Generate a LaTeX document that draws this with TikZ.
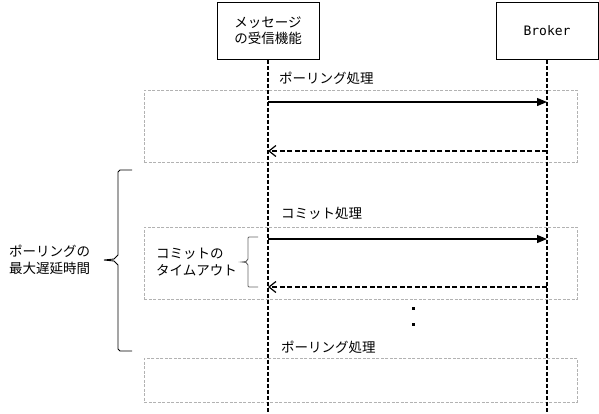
\documentclass[tikz,border=0pt]{standalone}
\usepackage{fontspec}
\setmainfont{Noto Sans CJK JP}
\usetikzlibrary{arrows.meta}
\begin{document}
\begin{tikzpicture}[x=1pt,y=-1pt,
  every node/.style={font=\fontsize{13.5}{16.5}\selectfont, inner sep=0pt},
  actor/.style={draw, line width=0.8pt, minimum width=102pt, minimum height=57pt, align=center, text width=95pt},
  lifeline/.style={line width=1.3pt, dash pattern=on 4pt off 2pt},
  frame/.style={draw=black!30, line width=0.8pt, dash pattern=on 3pt off 1.5pt},
  msg/.style={line width=1.2pt, -{Triangle[length=10pt,width=8pt]}},
  reply/.style={line width=1.2pt, dash pattern=on 5pt off 2.5pt, -{Straight Barb[length=7pt,width=11pt,line width=1.2pt]}},
  lbl/.style={anchor=west},
  bracestyle/.style={line width=0.9pt}
]
\useasboundingbox (0,0) rectangle (599,413);
\fill[white] (0,0) rectangle (599,413);

% gray frames
\node[frame, minimum width=433pt, minimum height=72pt, anchor=north west] (f1) at (144,90) {};
\node[frame, minimum width=433pt, minimum height=72pt, anchor=north west] (f2) at (144,227) {};
\node[frame, minimum width=433pt, minimum height=44pt, anchor=north west] (f3) at (144,358) {};

% actors
\node[actor, anchor=north] (a) at (268,2) {メッセージ\\の受信機能};
\node[actor, anchor=north] (b) at (547,2) {\fontspec{DejaVu Sans Mono}\fontsize{13}{15}\selectfont Broker};

\coordinate (aend) at (268,413);
\coordinate (bend) at (547,413);
\draw[lifeline] (a.south) -- (aend);
\draw[lifeline] (b.south) -- (bend);

% messages
\coordinate (a1) at (268,102); \coordinate (b1) at (547,102);
\coordinate (a2) at (268,151); \coordinate (b2) at (547,151);
\coordinate (a3) at (268,239); \coordinate (b3) at (547,239);
\coordinate (a4) at (268,287); \coordinate (b4) at (547,287);
\draw[msg] (a1) -- (b1);
\draw[reply] (b2) -- (a2);
\draw[msg] (a3) -- (b3);
\draw[reply] (b4) -- (a4);

\node[lbl] (l1) at (279,78) {ポーリング処理};
\node[lbl] (l2) at (281,213) {コミット処理};
\node[lbl] (l3) at (281,347) {ポーリング処理};

% dots
\fill (412,306.5) rectangle (414.5,309.5);
\fill (412,322.5) rectangle (414.5,325.5);

% big brace
\draw[bracestyle] (132,170) -- (120,170) -- (118,172) -- (118,255) -- (114,259) -- (104,260)
  -- (114,261) -- (118,265) -- (118,349) -- (120,351) -- (132,351);
\node[align=left, anchor=west] (lmax) at (9,260) {ポーリングの\\最大遅延時間};

% small brace
\draw[bracestyle, black!60] (258,237) -- (249,237) -- (248,238) -- (248,259) -- (246,261.5) -- (242,262)
  -- (246,262.5) -- (248,265) -- (248,286) -- (249,287) -- (258,287);
\node[align=left, anchor=west] (lto) at (156,262) {コミットの\\タイムアウト};
\end{tikzpicture}
\end{document}
